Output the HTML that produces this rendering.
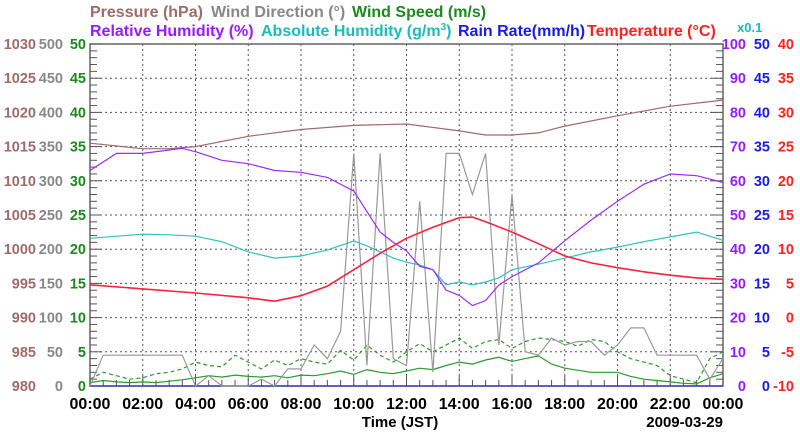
<!DOCTYPE html>
<html><head><meta charset="utf-8"><style>
html,body{margin:0;padding:0;background:#fff;}
svg{display:block;font-family:"Liberation Sans",sans-serif;font-weight:bold;}
</style></head><body>
<svg id="chart" width="800" height="434">
<g font-size="16">
<text x="90" y="17" fill="#a06a6a">Pressure (hPa)</text>
<text x="211" y="17" fill="#888">Wind Direction (°)</text>
<text x="352" y="17" fill="#1a8a1a">Wind Speed (m/s)</text>
<text x="90" y="36" fill="#9a1aff">Relative Humidity (%)</text>
<text x="261" y="36" fill="#1abcbc">Absolute Humidity (g/m<tspan font-size="10" dy="-6">3</tspan><tspan dy="6">)</tspan></text>
<text x="458" y="36" fill="#1a1aee">Rain Rate(mm/h)</text>
<text x="587" y="36" fill="#ff2020">Temperature (°C)</text>
<text x="737" y="32" font-size="13" fill="#1abcbc">x0.1</text>
</g>
<g id="grid"></g>
<g id="axes"></g>
<g id="series"></g>
<text x="400" y="427" text-anchor="middle" font-size="15">Time (JST)</text>
<text x="723" y="427" text-anchor="end" font-size="15">2009-03-29</text>
</svg>
<script>
const hoursTemp=[0,2,4,6,7,8,9,10,11,12,13,14,14.5,15,16,17,18,19,20,21,22,23,24];
const temperature=[4.8,4.2,3.6,2.9,2.4,3.2,4.6,7,9.4,11.6,13.2,14.6,14.7,14,12.5,10.8,9,8,7.3,6.7,6.2,5.8,5.6];
const hoursRH=[0,1,2,3,3.5,4,5,6,7,8,9,10,10.5,11,11.5,12,12.5,13,13.5,14,14.5,15,15.5,16,17,18,19,20,21,22,23,24];
const relHumidity=[63,68,68,69,69.5,68.5,66,65,63,62.5,61,57,51,45,42,39.5,35,34,28,26.5,23.5,25,29.5,32,36,42.5,48.5,54,59,62,61.5,59.5];
const hoursAH=[0,1,2,3,4,5,6,7,8,9,10,10.5,11,11.5,12,12.5,13,13.5,14,14.5,15,15.5,16,17,18,19,20,21,22,23,24];
const absHumidity=[21.6,21.9,22.2,22.1,21.9,21.1,19.6,18.7,19,19.9,21.2,20.5,19.6,18.7,18.1,17.7,17,14.8,15.2,14.8,15.2,15.8,17,17.8,18.7,19.6,20.3,21.1,21.8,22.5,21.3];
const hoursP=[0,2,3,4,6,8,10,12,14,15,16,17,18,20,22,24];
const pressure=[1015.5,1014.7,1014.7,1015,1016.5,1017.5,1018.1,1018.3,1017.3,1016.7,1016.7,1017,1018,1019.5,1020.9,1021.8];
const windDir=[0,45,45,45,45,45,45,45,0,15,0,0,0,10,0,25,25,60,40,80,340,30,340,40,30,270,20,340,340,280,340,60,280,50,45,70,60,65,65,45,60,85,85,45,45,45,45,10,40];
const windAvg=[0.5,0.8,0.6,0.5,0.6,0.5,0.7,0.9,1.2,1.5,1.3,1.6,1.4,1.3,1.5,1.2,1.6,1.5,1.8,2.2,1.7,2.4,2.0,1.8,2.2,2.6,2.4,3.0,3.5,3.2,3.8,4.2,3.6,4.0,4.4,3.2,2.6,2.3,2.0,2.0,2.0,1.4,1.0,0.8,0.6,0.4,0.3,1.2,1.8];
const windGust=[1,2,1.5,1,1.2,1.8,2,2.5,3.5,3,2.8,4.5,3.5,2.5,3.8,3,4,3.5,3.2,5.2,3.8,6,4.5,3.5,5,6.2,5,6,7,5.5,6.5,6.8,5.5,6.5,7,6.8,6.5,5.8,6.8,6.5,5,4,3.5,3,1.5,1,0.5,4,5];
const rainRate=[0,0];
const xTicks=["00:00","02:00","04:00","06:00","08:00","10:00","12:00","14:00","16:00","18:00","20:00","22:00","00:00"];
const pTicks=[980,985,990,995,1000,1005,1010,1015,1020,1025,1030];
const dTicks=[0,50,100,150,200,250,300,350,400,450,500];
const sTicks=[0,5,10,15,20,25,30,35,40,45,50];
const rhTicks=[0,10,20,30,40,50,60,70,80,90,100];
const rTicks=[0,5,10,15,20,25,30,35,40,45,50];
const tTicks=[-10,-5,0,5,10,15,20,25,30,35,40];

const L=90,R=723,T=44,B=386,NS="http://www.w3.org/2000/svg";
const xS=h=>L+h/24*(R-L);
const lin=(min,max)=>v=>B-(v-min)/(max-min)*(B-T);
const yP=lin(980,1030),yD=lin(0,500),yS=lin(0,50),yRH=lin(0,100),yR=lin(0,50),yT=lin(-10,40),yA=lin(0,50);
function mk(tag,attrs,parent){const e=document.createElementNS(NS,tag);for(const k in attrs)e.setAttribute(k,attrs[k]);parent.appendChild(e);return e;}
const grid=document.getElementById('grid'),axes=document.getElementById('axes'),ser=document.getElementById('series');
for(let i=1;i<12;i++){const l=mk('line',{x1:xS(i*2),x2:xS(i*2),y1:T,y2:B,stroke:'#555','stroke-dasharray':'2,3'},grid);
}
for(let i=1;i<10;i++){const y=T+i*(B-T)/10;const l=mk('line',{x1:L,x2:R,y1:y,y2:y,stroke:'#555','stroke-dasharray':'2,3'},grid);
}
const fr=mk('rect',{x:L,y:T,width:R-L,height:B-T,fill:'none',stroke:'#666','stroke-width':1.5},axes);

for(let i=0;i<=50;i++){const y=T+i*(B-T)/50;const len=i%5==0?12:7;
mk('line',{x1:L,x2:L+len,y1:y,y2:y,stroke:'#555'},axes);mk('line',{x1:R-len,x2:R,y1:y,y2:y,stroke:'#555'},axes);}
for(let i=0;i<=48;i++){const x=L+i*(R-L)/48;const len=i%4==0?10:6;mk('line',{x1:x,x2:x,y1:B-len,y2:B,stroke:'#555'},axes);}
function col(ticks,scale,x,anchor,color,name){ticks.forEach((v,i)=>{const t=mk('text',{x:x,y:yS(sTicks[i])+5,'text-anchor':anchor,'font-size':14.5,fill:color},axes);t.textContent=v;
});}
col(pTicks,yP,36,'end','#a06a6a','pressure-tick');
col(dTicks,yD,63,'end','#888','wind-direction-tick');
col(sTicks,yS,86,'end','#1a8a1a','wind-speed-tick');
col(rhTicks,yRH,746,'end','#9a1aff','humidity-tick');
col(rTicks,yR,770,'end','#1a1aee','rain-rate-tick');
col(tTicks,yT,794,'end','#ff2020','temperature-tick');
xTicks.forEach((s,i)=>{const t=mk('text',{x:xS(i*2),y:409,'text-anchor':'middle','font-size':16,fill:'#000'},axes);t.textContent=s;
});
function line(hs,vals,ys,color,name,extra){const pts=vals.map((v,i)=>xS(hs[i]).toFixed(1)+','+ys(v).toFixed(1)).join(' ');
const p=mk('polyline',Object.assign({points:pts,fill:'none',stroke:color,'stroke-width':1.2},extra||{}),ser);
}
const half=windDir.map((_,i)=>i*0.5);
line([0,24],rainRate,yR,'#3030cc','rain-rate-line');
line(half,windGust,yS,'#2a9a2a','wind-gust-line',{'stroke-dasharray':'4,3'});
line(half,windAvg,yS,'#2a9a2a','wind-speed-line');
line(half,windDir,yD,'#999','wind-direction-line');
line(hoursP,pressure,yP,'#a06a6a','pressure-line');
line(hoursAH,absHumidity,yA,'#30c0c0','absolute-humidity-line');
line(hoursRH,relHumidity,yRH,'#9a2aff','relative-humidity-line');
line(hoursTemp,temperature,yT,'#ff2040','temperature-line',{'stroke-width':1.6});
</script>
</body></html>
